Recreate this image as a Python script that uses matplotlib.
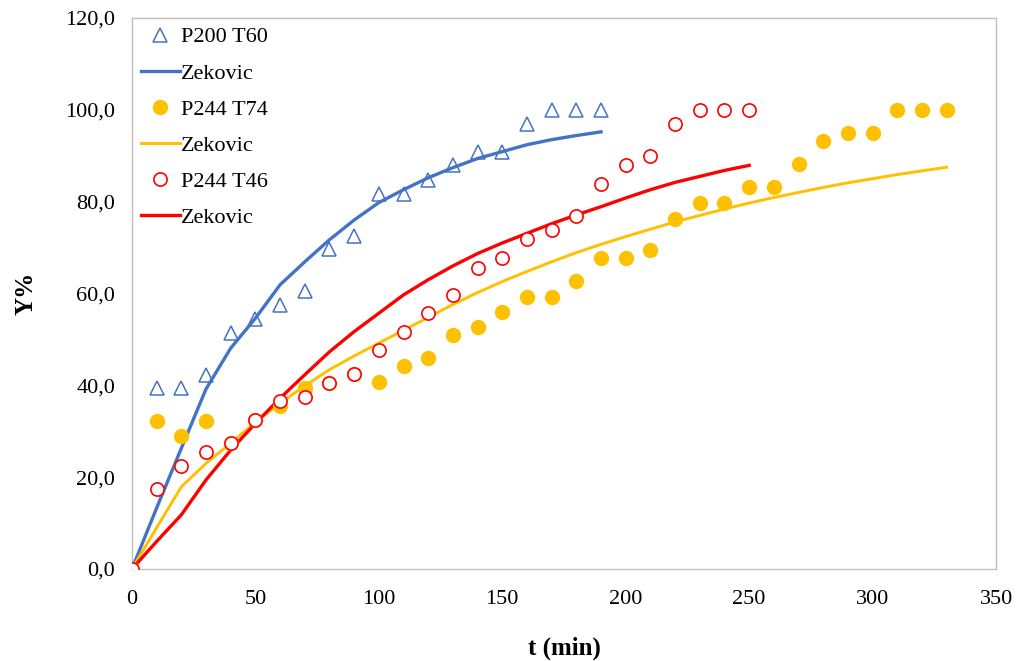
import matplotlib
matplotlib.use("Agg")
import matplotlib.pyplot as plt
from matplotlib.ticker import FuncFormatter

plt.rcParams['font.family'] = ['Liberation Serif', 'DejaVu Serif']

# Experimental yields (Y%) vs extraction time (min)
t_p200_t60 = list(range(0, 200, 10))
y_p200_t60 = [0, 39.4, 39.4, 42.3, 51.5, 54.5, 57.6, 60.5, 69.6, 72.6,
              81.7, 81.7, 84.8, 87.9, 90.8, 90.8, 96.9, 100, 100, 100]

t_p244_t74 = list(range(0, 340, 10))
y_p244_t74 = [0, 32.3, 29.0, 32.3, 27.4, 32.5, 35.5, 39.4, 40.5, 42.4,
              40.8, 44.2, 45.9, 51.0, 52.6, 55.9, 59.3, 59.3, 62.7, 67.8,
              67.8, 69.5, 76.3, 79.7, 79.7, 83.1, 83.1, 88.2, 93.2, 94.9,
              94.9, 100, 100, 100]

t_p244_t46 = list(range(0, 260, 10))
y_p244_t46 = [0, 17.4, 22.4, 25.4, 27.4, 32.5, 36.5, 37.5, 40.5, 42.4,
              47.6, 51.6, 55.7, 59.7, 65.6, 67.7, 71.8, 73.9, 76.9, 83.9,
              87.9, 90.0, 97.0, 100, 100, 100]

# Zekovic model curves
zek_p200_t60 = [0, 13.3, 26.3, 39.2, 48.1, 54.6, 61.9, 66.9, 71.7, 76.0,
                79.8, 82.6, 85.2, 87.4, 89.4, 90.9, 92.4, 93.5, 94.4, 95.2]
zek_p244_t74 = [0, 9.0, 17.9, 23.0, 27.4, 32.0, 36.1, 39.9, 43.4, 46.4,
                49.2, 52.0, 54.8, 57.6, 60.2, 62.6, 64.8, 66.9, 68.9, 70.7,
                72.4, 74.0, 75.6, 77.0, 78.4, 79.7, 80.9, 82.0, 83.1, 84.1,
                85.0, 85.9, 86.7, 87.5]
zek_p244_t46 = [0, 6.0, 11.8, 19.4, 25.9, 31.7, 37.2, 42.3, 47.3, 51.7,
                55.7, 59.7, 63.0, 66.0, 68.7, 71.0, 73.1, 75.2, 77.1, 78.9,
                80.8, 82.6, 84.2, 85.5, 86.8, 87.9]

x_ticks = [0, 50, 100, 150, 200, 250, 300, 350]
y_ticks = [0, 20, 40, 60, 80, 100, 120]

BLUE = '#4472C4'
GOLD = '#FFC000'
RED = '#FF0000'

fig = plt.figure(figsize=(10.19, 6.61), dpi=100)
ax = fig.add_axes([0.1295, 0.1392, 0.848, 0.8336])

h1, = ax.plot(t_p200_t60, y_p200_t60, linestyle='none', marker='^',
              markersize=10, markerfacecolor='none', markeredgecolor=BLUE,
              markeredgewidth=1.1, zorder=4, label='P200 T60')
h2, = ax.plot(t_p200_t60, zek_p200_t60, color=BLUE, linewidth=2.4,
              zorder=3, label='Zekovic')
h3, = ax.plot(t_p244_t74, y_p244_t74, linestyle='none', marker='o',
              markersize=10, markerfacecolor=GOLD, markeredgecolor=GOLD,
              zorder=4, label='P244 T74')
h4, = ax.plot(t_p244_t74, zek_p244_t74, color=GOLD, linewidth=2.1,
              zorder=3, label='Zekovic')
h5, = ax.plot(t_p244_t46, y_p244_t46, linestyle='none', marker='o',
              markersize=9.5, markerfacecolor='white', markeredgecolor=RED,
              markeredgewidth=1.2, zorder=5, label='P244 T46')
h6, = ax.plot(t_p244_t46, zek_p244_t46, color=RED, linewidth=2.4,
              zorder=3, label='Zekovic')

ax.set_xlim(0, 350)
ax.set_ylim(0, 120)
ax.set_xticks(x_ticks)
ax.set_yticks(y_ticks)
ax.yaxis.set_major_formatter(FuncFormatter(lambda v, p: f"{v:.1f}".replace('.', ',')))
ax.tick_params(axis='both', length=0, labelsize=16, colors='black')
ax.tick_params(axis='x', pad=15)
ax.tick_params(axis='y', pad=12)

for side in ['left', 'right', 'top', 'bottom']:
    ax.spines[side].set_color('#C0C0C0')
    ax.spines[side].set_linewidth(1.0)

ax.set_xlabel('t (min)', fontsize=18, fontweight='bold', labelpad=20)
ax.set_ylabel('Y%', fontsize=18, fontweight='bold', labelpad=20)

leg = ax.legend(handles=[h1, h2, h3, h4, h5, h6], loc='upper left',
                bbox_to_anchor=(0.0, 1.0), frameon=False, fontsize=16,
                handlelength=1.75, handletextpad=0.05, labelspacing=0.7,
                borderaxespad=0.2, borderpad=0.2)

fig.savefig('out.png', dpi=100)
